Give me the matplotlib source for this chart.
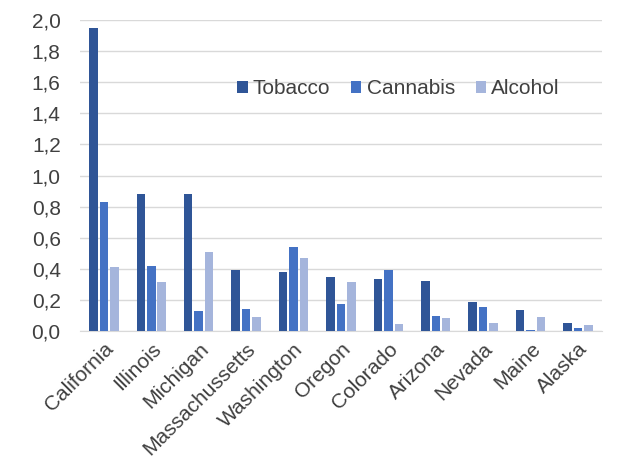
import matplotlib
matplotlib.use("Agg")
import numpy as np
import matplotlib.pyplot as plt
from matplotlib.ticker import FuncFormatter

plt.rcParams['font.family'] = ['Liberation Sans', 'DejaVu Sans']

states = ['California', 'Illinois', 'Michigan', 'Massachussetts', 'Washington',
          'Oregon', 'Colorado', 'Arizona', 'Nevada', 'Maine', 'Alaska']
tobacco = [1.95, 0.88, 0.88, 0.39, 0.38, 0.35, 0.335, 0.32, 0.19, 0.135, 0.055]
cannabis = [0.83, 0.42, 0.13, 0.14, 0.54, 0.175, 0.39, 0.10, 0.155, 0.008, 0.022]
alcohol = [0.41, 0.315, 0.51, 0.09, 0.467, 0.317, 0.047, 0.087, 0.05, 0.09, 0.037]

colors = ['#2f5597', '#4472c4', '#a5b5dc']

fig = plt.figure(figsize=(6.21, 4.65), dpi=100)
ax = fig.add_axes([0.129, 0.288, 0.84, 0.669])

x = np.arange(len(states))
w = 0.18
step = 0.22
ax.bar(x - step, tobacco, w, color=colors[0], label='Tobacco', zorder=3)
ax.bar(x, cannabis, w, color=colors[1], label='Cannabis', zorder=3)
ax.bar(x + step, alcohol, w, color=colors[2], label='Alcohol', zorder=3)

ax.set_xlim(-0.5, len(states) - 0.5)
ax.set_ylim(0, 2.0)
ax.set_yticks(np.arange(0, 2.01, 0.2))
ax.yaxis.set_major_formatter(FuncFormatter(lambda v, p: f"{v:.1f}".replace('.', ',')))
ax.set_xticks(x)
ax.set_xticklabels(states, rotation=45, ha='right', rotation_mode='anchor')
ax.tick_params(axis='both', length=0, labelsize=15, labelcolor='#404040')
ax.tick_params(axis='x', pad=6)
ax.tick_params(axis='y', pad=14)

ax.grid(axis='y', color='#d9d9d9', linewidth=1, zorder=0)
for s in ['top', 'right', 'left']:
    ax.spines[s].set_visible(False)
ax.spines['bottom'].set_color('#d9d9d9')

ax.legend(loc='upper left', bbox_to_anchor=(0.265, 0.87), ncol=3, frameon=False,
          fontsize=15, handlelength=0.5, handleheight=0.5, handletextpad=0.25,
          columnspacing=1.0, labelcolor='#404040')

fig.savefig('out.png', dpi=100)
